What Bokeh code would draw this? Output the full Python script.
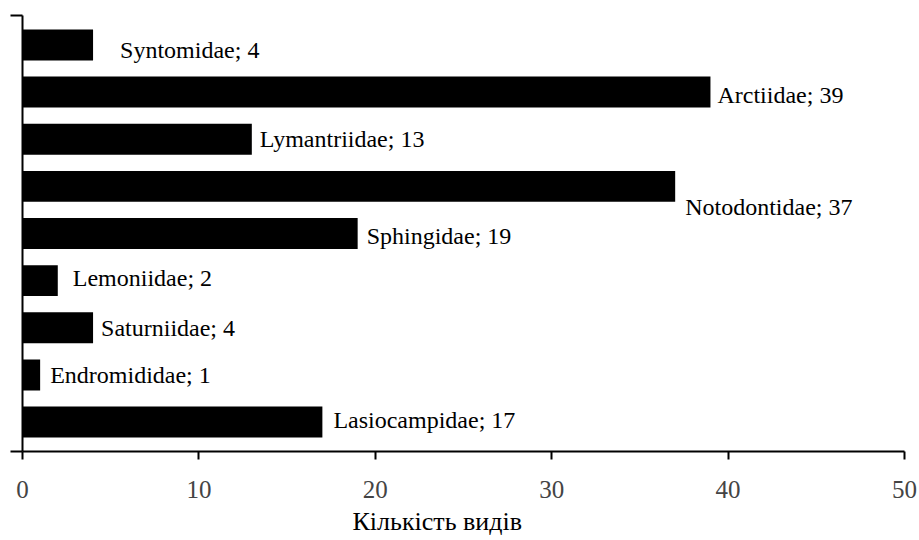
from bokeh.plotting import figure
from bokeh.models import ColumnDataSource, FixedTicker, Range1d, Title
from bokeh.core.properties import value
from bokeh.embed import file_html
from bokeh.resources import INLINE

# data (bottom to top)
families = ["Lasiocampidae", "Endromididae", "Saturniidae", "Lemoniidae",
            "Sphingidae", "Notodontidae", "Lymantriidae", "Arctiidae", "Syntomidae"]
counts = [17, 1, 4, 2, 19, 37, 13, 39, 4]
x_ticks = [0, 10, 20, 30, 40, 50]
x_title = "Кількість видів"

# label nudges in screen pixels (layout only)
label_dx = [11, 10, 8, 15, 9, 10, 8, 7, 27]
label_dy = [-2, 0, 0, -3, 2, 21, 0, 3, 5]

pos = list(range(len(families)))
labels = [f"{f}; {c}" for f, c in zip(families, counts)]
src = ColumnDataSource(dict(y=pos, v=counts, lab=labels, dx=label_dx, dy=label_dy))

FONT = "Liberation Serif"
pad = 0.624
top = len(families) - 1 + pad
p = figure(width=919, height=540, output_backend="svg", toolbar_location=None,
           x_range=Range1d(0, 50), y_range=Range1d(-pad, top),
           min_border_left=22, min_border_right=15, min_border_top=15, min_border_bottom=88)
p.outline_line_color = None
p.grid.visible = False
p.background_fill_color = "white"

p.hbar(y="y", right="v", left=0, height=0.656, source=src,
       fill_color="black", line_color=None)
p.text(x="v", y="y", text="lab", x_offset="dx", y_offset="dy", source=src,
       text_font=value(FONT), text_font_size="24px", text_align="left",
       text_baseline="middle", text_color="black")

xa = p.xaxis[0]
xa.ticker = FixedTicker(ticks=x_ticks)
xa.minor_tick_line_color = None
xa.major_tick_in = 0
xa.major_tick_out = 8
xa.axis_line_width = 2
xa.major_tick_line_width = 2
xa.major_label_text_font = FONT
xa.major_label_text_font_size = "25px"
xa.major_label_standoff = 21

ya = p.yaxis[0]
ya.ticker = FixedTicker(ticks=[-pad, top])
ya.minor_tick_line_color = None
ya.major_tick_in = 0
ya.major_tick_out = 12
ya.axis_line_width = 2
ya.major_tick_line_width = 2
ya.major_label_overrides = {-pad: "", top: ""}
ya.major_label_standoff = 0

p.add_layout(Title(text=x_title, align="left", offset=330, standoff=9,
                   text_font=FONT, text_font_size="26px", text_font_style="normal",
                   text_color="black"), "below")

open("out.html", "w").write(file_html(p, INLINE))
